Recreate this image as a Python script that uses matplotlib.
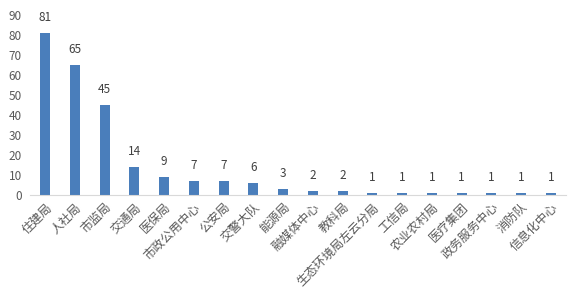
import matplotlib
matplotlib.use("Agg")
import matplotlib.pyplot as plt

categories = ["住建局", "人社局", "市监局", "交通局", "医保局", "市政公用中心", "公安局", "交警大队",
              "能源局", "融媒体中心", "教科局", "生态环境局左云分局", "工信局", "农业农村局",
              "医疗集团", "政务服务中心", "消防队", "信息化中心"]
values = [81, 65, 45, 14, 9, 7, 7, 6, 3, 2, 2, 1, 1, 1, 1, 1, 1, 1]
yticks = [0, 10, 20, 30, 40, 50, 60, 70, 80, 90]

plt.rcParams['font.family'] = ['Noto Sans CJK SC', 'DejaVu Sans']

fig = plt.figure(figsize=(5.82, 3.02), dpi=100)
ax = fig.add_axes([0.052, 0.354, 0.920, 0.596])
x = list(range(len(categories)))
bars = ax.bar(x, values, width=0.34, color="#4a7ebb")
for xi, v in zip(x, values):
    ax.text(xi, v + 4.5, str(v), ha="center", va="bottom", fontsize=8.5, color="#404040")
ax.set_ylim(0, 90)
ax.set_xlim(-0.5, len(categories) - 0.5)
ax.set_yticks(yticks)
ax.set_xticks(x)
ax.set_xticklabels(categories, rotation=45, ha="right", va="top", rotation_mode="anchor",
                   fontsize=8.8, color="#595959")
ax.tick_params(axis="y", length=0, labelsize=8.5, labelcolor="#595959", pad=6)
ax.tick_params(axis="x", length=0, pad=4)
for s in ["top", "right", "left"]:
    ax.spines[s].set_visible(False)
ax.spines["bottom"].set_color("#d9d9d9")
fig.savefig("out.png", dpi=100)
